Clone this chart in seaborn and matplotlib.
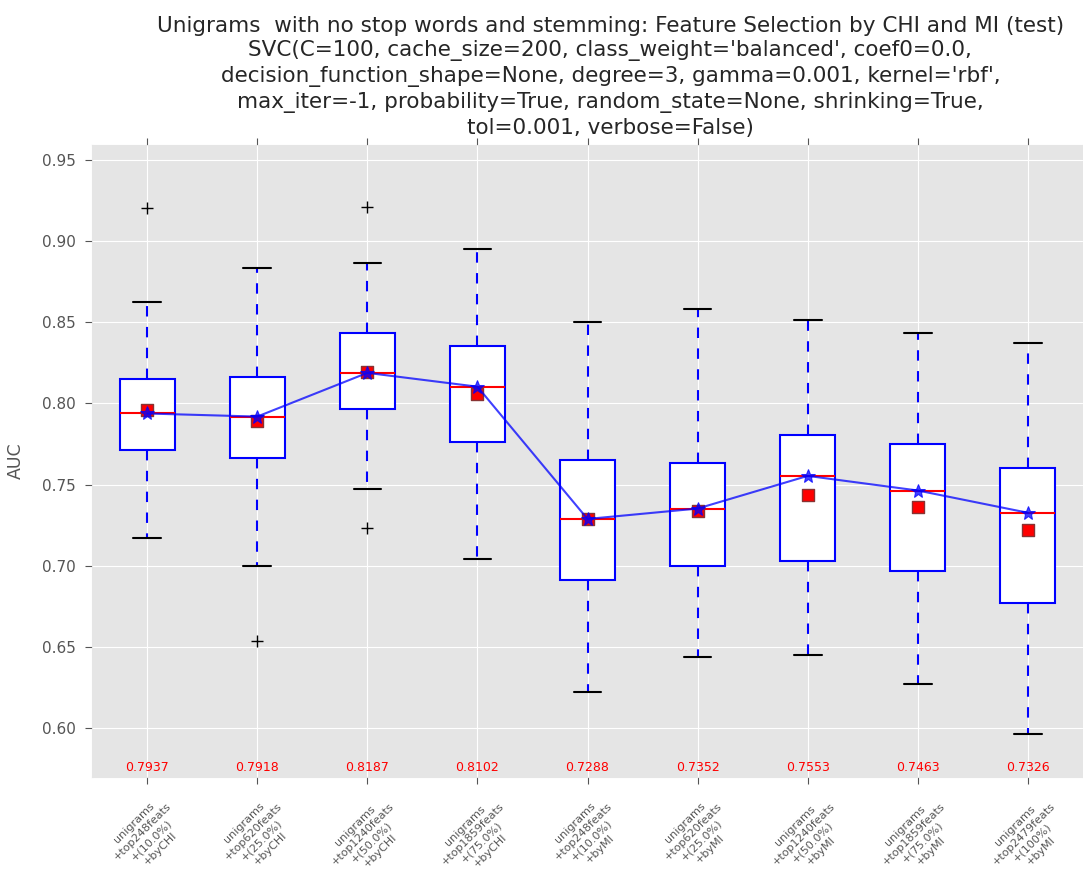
import matplotlib
matplotlib.use("Agg")
import matplotlib.pyplot as plt
import matplotlib.transforms as mtransforms
import seaborn as sns

# box statistics
labels = [
    "unigrams\n+top248feats\n+(10.0%)\n+byCHI",
    "unigrams\n+top620feats\n+(25.0%)\n+byCHI",
    "unigrams\n+top1240feats\n+(50.0%)\n+byCHI",
    "unigrams\n+top1859feats\n+(75.0%)\n+byCHI",
    "unigrams\n+top248feats\n+(10.0%)\n+byMI",
    "unigrams\n+top620feats\n+(25.0%)\n+byMI",
    "unigrams\n+top1240feats\n+(50.0%)\n+byMI",
    "unigrams\n+top1859feats\n+(75.0%)\n+byMI",
    "unigrams\n+top2479feats\n+(100%)\n+byMI",
]
medians = [0.7937, 0.7918, 0.8187, 0.8102, 0.7288, 0.7352, 0.7553, 0.7463, 0.7326]
means = [0.7960, 0.7893, 0.8193, 0.8058, 0.7285, 0.7334, 0.7433, 0.7359, 0.7218]
q1 = [0.7715, 0.7666, 0.7966, 0.7764, 0.6911, 0.6997, 0.7028, 0.6966, 0.6770]
q3 = [0.8150, 0.8163, 0.8433, 0.8353, 0.7653, 0.7635, 0.7807, 0.7752, 0.7604]
whis_lo = [0.7169, 0.6997, 0.7475, 0.7040, 0.6224, 0.6439, 0.6451, 0.6273, 0.5966]
whis_hi = [0.8623, 0.8831, 0.8862, 0.8948, 0.8502, 0.8580, 0.8512, 0.8433, 0.8371]
fliers = [[0.9200], [0.6537], [0.9206, 0.7230], [], [], [], [], [], []]

title = ("Unigrams  with no stop words and stemming: Feature Selection by CHI and MI (test)\n"
         "SVC(C=100, cache_size=200, class_weight='balanced', coef0=0.0,\n"
         "decision_function_shape=None, degree=3, gamma=0.001, kernel='rbf',\n"
         "max_iter=-1, probability=True, random_state=None, shrinking=True,\n"
         "tol=0.001, verbose=False)")

sns.set_style("darkgrid", rc={
    "axes.facecolor": "#E5E5E5",
    "grid.color": "white",
    "axes.edgecolor": "#E5E5E5",
    "xtick.bottom": True,
    "xtick.top": True,
    "ytick.left": True,
    "xtick.color": "#555555",
    "ytick.color": "#555555",
    "axes.labelcolor": "#555555",
})
plt.rcParams["font.family"] = ["DejaVu Sans"]

fig = plt.figure(figsize=(10.83, 8.89), dpi=100)
ax = fig.add_axes([0.085, 0.126, 0.915, 0.711])

positions = list(range(1, len(labels) + 1))
stats = []
for i in range(len(labels)):
    stats.append({
        "med": medians[i], "q1": q1[i], "q3": q3[i],
        "whislo": whis_lo[i], "whishi": whis_hi[i],
        "fliers": fliers[i], "mean": means[i],
    })

ax.bxp(stats, positions=positions, widths=0.5, patch_artist=True,
       showmeans=False,
       boxprops=dict(facecolor="white", edgecolor="blue", linewidth=1.5),
       medianprops=dict(color="red", linewidth=1.5),
       whiskerprops=dict(color="blue", linestyle="--", linewidth=1.5, dashes=(5, 5)),
       capprops=dict(color="black", linewidth=1.5),
       flierprops=dict(marker="+", markeredgecolor="black", markersize=8))

sns.scatterplot(x=positions, y=means, marker="s", s=80, color="red",
                edgecolor="#883333", linewidth=1, ax=ax, zorder=4)
sns.lineplot(x=positions, y=medians, marker="*", markersize=10, color="blue",
             markeredgecolor="blue", alpha=0.75, linewidth=1.5, ax=ax, zorder=5)

trans = mtransforms.blended_transform_factory(ax.transData, ax.transAxes)
for p, m in zip(positions, medians):
    ax.text(p, 0.005, f"{m:.4f}", color="red", fontsize=9, ha="center",
            va="bottom", transform=trans)

ax.set_xlim(0.5, 9.5)
ax.set_ylim(0.57, 0.959)
ax.set_yticks([0.60, 0.65, 0.70, 0.75, 0.80, 0.85, 0.90, 0.95])
ax.set_yticklabels([f"{v:.2f}" for v in ax.get_yticks()], fontsize=11)
ax.set_xticks(positions)
ax.set_xticklabels(labels, rotation=45, fontsize=8, ha="center",
                   multialignment="center", linespacing=1.25)
ax.tick_params(axis="both", direction="out", length=5, width=0.8)
ax.tick_params(axis="y", pad=7)
ax.tick_params(axis="x", pad=6)
ax.set_ylabel("AUC", fontsize=12.5, labelpad=12)
ax.set_title(title, fontsize=15.5, linespacing=1.3, x=0.523, pad=8)

fig.savefig("out.png", dpi=100)
